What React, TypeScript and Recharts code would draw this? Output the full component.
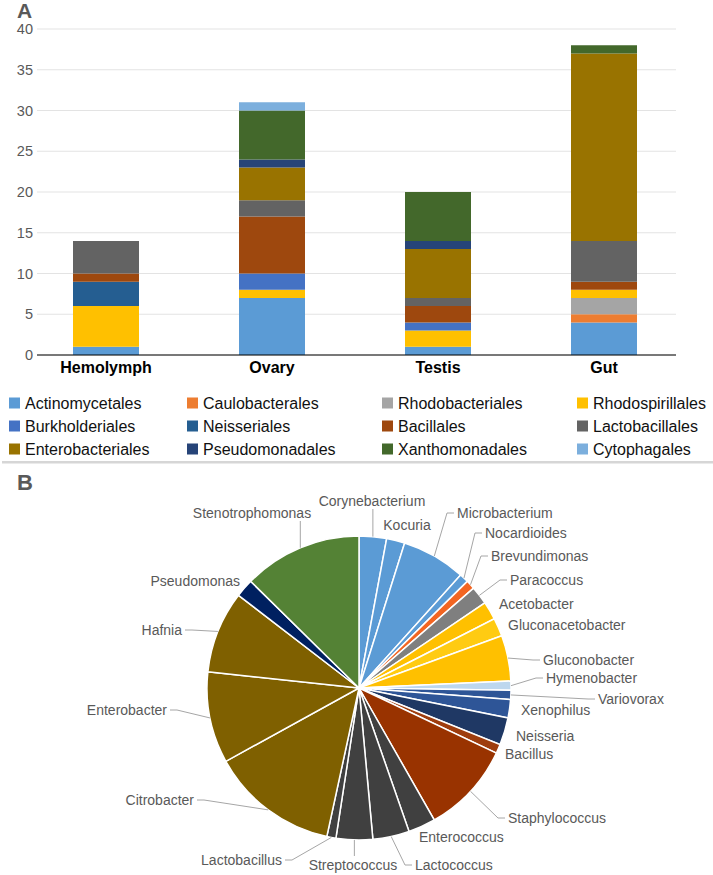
import React from "react";
import { BarChart, Bar, XAxis, YAxis, CartesianGrid, PieChart, Pie, Cell } from "recharts";

// ---------- Panel A data ----------
const tissues = ["Hemolymph", "Ovary", "Testis", "Gut"];
const orders = [
  "Actinomycetales", "Caulobacterales", "Rhodobacteriales", "Rhodospirillales",
  "Burkholderiales", "Neisseriales", "Bacillales", "Lactobacillales",
  "Enterobacteriales", "Pseudomonadales", "Xanthomonadales", "Cytophagales",
];
const orderColors = [
  "#5B9BD5", "#ED7D31", "#A5A5A5", "#FFC000",
  "#4472C4", "#255E91", "#9E480E", "#636363",
  "#997300", "#264478", "#43682B", "#7CAFDD",
];
const actinomycetales = [1, 7, 1, 4];
const caulobacterales = [0, 0, 0, 1];
const rhodobacteriales = [0, 0, 0, 2];
const rhodospirillales = [5, 1, 2, 1];
const burkholderiales = [0, 2, 1, 0];
const neisseriales = [3, 0, 0, 0];
const bacillales = [1, 7, 2, 1];
const lactobacillales = [4, 2, 1, 5];
const enterobacteriales = [0, 4, 6, 23];
const pseudomonadales = [0, 1, 1, 0];
const xanthomonadales = [0, 6, 6, 1];
const cytophagales = [0, 1, 0, 0];
const yTicks = [0, 5, 10, 15, 20, 25, 30, 35, 40];

const orderValues = [
  actinomycetales, caulobacterales, rhodobacteriales, rhodospirillales,
  burkholderiales, neisseriales, bacillales, lactobacillales,
  enterobacteriales, pseudomonadales, xanthomonadales, cytophagales,
];

const barData = tissues.map((t, i) => {
  const row: Record<string, string | number> = { tissue: t };
  orders.forEach((o, k) => { row[o] = orderValues[k][i]; });
  return row;
});

// ---------- Panel B data ----------
const genera = [
  "Corynebacterium", "Kocuria", "Microbacterium", "Nocardioides", "Brevundimonas",
  "Paracoccus", "Acetobacter", "Gluconacetobacter", "Gluconobacter", "Hymenobacter",
  "Variovorax", "Xenophilus", "Neisseria", "Bacillus", "Staphylococcus",
  "Enterococcus", "Lactococcus", "Streptococcus", "Lactobacillus", "Citrobacter",
  "Enterobacter", "Hafnia", "Pseudomonas", "Stenotrophomonas",
];
const generaCounts = [3, 2, 7, 1, 1, 2, 2, 2, 5, 1, 1, 2, 3, 1, 10, 3, 4, 4, 1, 14, 10, 9, 2, 13];
const generaColors = [
  "#5B9BD5", "#5B9BD5", "#5B9BD5", "#5B9BD5", "#F26522",
  "#7F7F7F", "#FFC000", "#FFCB12", "#FFC000", "#BDD7EE",
  "#2E5597", "#2E5597", "#1F3864", "#9E3D0E", "#993300",
  "#404040", "#404040", "#404040", "#404040", "#7F6000",
  "#7F6000", "#7F6000", "#002060", "#548235",
];

const pieData = genera.map((g, i) => ({ name: g, value: generaCounts[i] }));

// label placement (layout only), relative to pie centre
const labelLayout: { dx: number; dy: number; anchor: "start" | "middle" | "end"; line: "v" | "h" | "" }[] = [
  { dx: 13, dy: -187, anchor: "middle", line: "v" },
  { dx: 48, dy: -163, anchor: "middle", line: "" },
  { dx: 98, dy: -175, anchor: "start", line: "h" },
  { dx: 126, dy: -155, anchor: "start", line: "h" },
  { dx: 132, dy: -132, anchor: "start", line: "h" },
  { dx: 151, dy: -108, anchor: "start", line: "h" },
  { dx: 140, dy: -84, anchor: "start", line: "" },
  { dx: 149, dy: -63, anchor: "start", line: "" },
  { dx: 184, dy: -28, anchor: "start", line: "h" },
  { dx: 187, dy: -10, anchor: "start", line: "h" },
  { dx: 239, dy: 11, anchor: "start", line: "h" },
  { dx: 162, dy: 22, anchor: "start", line: "" },
  { dx: 157, dy: 48, anchor: "start", line: "" },
  { dx: 146, dy: 66, anchor: "start", line: "" },
  { dx: 149, dy: 130, anchor: "start", line: "h" },
  { dx: 60, dy: 149, anchor: "start", line: "" },
  { dx: 56, dy: 177, anchor: "start", line: "h" },
  { dx: -6, dy: 177, anchor: "middle", line: "v" },
  { dx: -77, dy: 172, anchor: "end", line: "h" },
  { dx: -165, dy: 112, anchor: "end", line: "h" },
  { dx: -192, dy: 22, anchor: "end", line: "h" },
  { dx: -177, dy: -58, anchor: "end", line: "h" },
  { dx: -119, dy: -107, anchor: "end", line: "" },
  { dx: -107, dy: -175, anchor: "middle", line: "v" },
];

const FONT = '"Liberation Sans", Arial, Helvetica, sans-serif';
const RAD = Math.PI / 180;

function renderPieLabel(props: any) {
  const { cx, cy, midAngle, outerRadius, index } = props;
  const L = labelLayout[index];
  const ex = cx + outerRadius * Math.cos(-midAngle * RAD);
  const ey = cy + outerRadius * Math.sin(-midAngle * RAD);
  const tx = cx + L.dx;
  const ty = cy + L.dy;
  let line: React.ReactNode = null;
  if (L.line === "v") {
    const yEnd = L.dy < 0 ? ty + 8 : ty - 9;
    line = <polyline points={`${ex},${ey} ${ex},${yEnd}`} fill="none" stroke="#A6A6A6" strokeWidth={1} />;
  } else if (L.line === "h") {
    const sx = L.anchor === "start" ? tx - 3 : tx + 3;
    const elbow = L.anchor === "start" ? sx - 7 : sx + 7;
    line = <polyline points={`${sx},${ty} ${elbow},${ty} ${ex},${ey}`} fill="none" stroke="#A6A6A6" strokeWidth={1} />;
  }
  return (
    <g key={`lbl-${index}`}>
      {line}
      <text x={tx} y={ty} textAnchor={L.anchor} dominantBaseline="central" fontSize={14} fontFamily={FONT} fill="#595959">
        {genera[index]}
      </text>
    </g>
  );
}

function CategoryTick(props: any) {
  const { x, y, payload } = props;
  return (
    <text x={x} y={y + 12} textAnchor="middle" dominantBaseline="central" fontSize={16} fontWeight="bold" fontFamily={FONT} fill="#000">
      {payload.value}
    </text>
  );
}

const legendCols = [9, 187, 382, 577];
const legendRows = [403, 426, 449];

export default function App() {
  return (
    <div style={{ position: "absolute", left: 0, top: 0, width: 713, height: 875, background: "#fff", fontFamily: FONT }}>
      <div style={{ position: "absolute", top: 0, left: 0 }}>
        <BarChart width={713} height={380} data={barData} margin={{ top: 29, right: 37, bottom: 0, left: 0 }} barSize={66}>
          <CartesianGrid vertical={false} stroke="#E3E3E3" />
          <XAxis
            dataKey="tissue"
            height={25}
            padding={{ left: -14, right: -11 }}
            tick={<CategoryTick />}
            tickLine={false}
            tickSize={0}
            tickMargin={0}
            axisLine={{ stroke: "#000", strokeWidth: 1 }}
            interval={0}
          />
          <YAxis
            width={37}
            domain={[0, 40]}
            ticks={yTicks}
            axisLine={false}
            tickLine={false}
            tickSize={0}
            tickMargin={4}
            tick={{ fontSize: 14.5, fill: "#595959", fontFamily: FONT }}
          />
          {orders.map((o, k) => (
            <Bar key={o} dataKey={o} stackId="s" fill={orderColors[k]} isAnimationActive={false} />
          ))}
        </BarChart>
      </div>

      <svg width={713} height={875} style={{ position: "absolute", left: 0, top: 0, pointerEvents: "none" }}>
        <text x={17} y={17.5} fontSize={21} fontWeight="bold" fontFamily={FONT} fill="#595959">A</text>
        {orders.map((o, k) => {
          const col = k % 4;
          const row = Math.floor(k / 4);
          const x = legendCols[col];
          const y = legendRows[row];
          return (
            <g key={o}>
              <rect x={x} y={y - 5.5} width={11} height={11} fill={orderColors[k]} />
              <text x={x + 16} y={y} dominantBaseline="central" fontSize={16} fontFamily={FONT} fill="#111">{o}</text>
            </g>
          );
        })}
        <rect x={2} y={461} width={711} height={2.5} fill="#D6D6D6" />
        <text x={17} y={490} fontSize={22} fontWeight="bold" fontFamily={FONT} fill="#595959">B</text>
      </svg>

      <div style={{ position: "absolute", left: 0, top: 463 }}>
        <PieChart width={713} height={412} margin={{ top: 0, right: 0, bottom: 0, left: 0 }}>
          <Pie
            data={pieData}
            dataKey="value"
            nameKey="name"
            cx={359}
            cy={225}
            outerRadius={152}
            startAngle={90}
            endAngle={-270}
            stroke="#fff"
            strokeWidth={1.5}
            label={renderPieLabel}
            labelLine={false}
            isAnimationActive={false}
          >
            {pieData.map((d, i) => (
              <Cell key={d.name} fill={generaColors[i]} />
            ))}
          </Pie>
        </PieChart>
      </div>
    </div>
  );
}
